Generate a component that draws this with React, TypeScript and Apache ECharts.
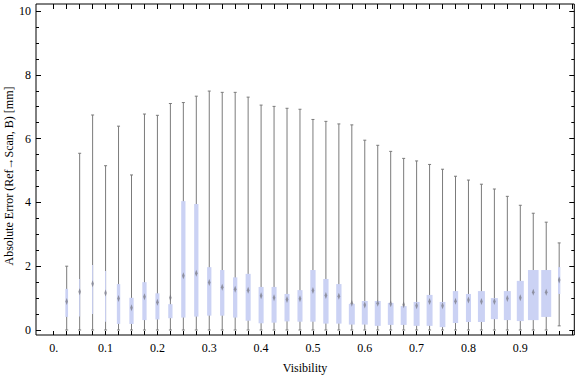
import React, { useEffect, useRef } from "react";
import * as echarts from "echarts";

// Visibility bins (box centres)
const visibility = [
  0.025, 0.05, 0.075, 0.1, 0.125, 0.15, 0.175, 0.2, 0.225, 0.25,
  0.275, 0.3, 0.325, 0.35, 0.375, 0.4, 0.425, 0.45, 0.475, 0.5,
  0.525, 0.55, 0.575, 0.6, 0.625, 0.65, 0.675, 0.7, 0.725, 0.75,
  0.775, 0.8, 0.825, 0.85, 0.875, 0.9, 0.925, 0.95, 0.975,
];
const whiskerLow = [
  0, 0, 0, 0, 0, 0, 0, 0, 0, 0,
  0, 0, 0, 0, 0, 0, 0, 0, 0, 0,
  0, 0, 0, 0, 0, 0, 0, 0, 0, 0,
  0, 0, 0, 0, 0, 0, 0, 0, 0.13,
];
const q1 = [
  0.41, 0.42, 0.5, 0.26, 0.19, 0.19, 0.31, 0.33, 0.37, 0.39,
  0.42, 0.45, 0.45, 0.39, 0.29, 0.21, 0.23, 0.27, 0.26, 0.26,
  0.2, 0.2, 0.17, 0.17, 0.13, 0.16, 0.16, 0.13, 0.13, 0.09,
  0.22, 0.25, 0.25, 0.34, 0.31, 0.28, 0.31, 0.41, 1.13,
];
const median = [
  0.89, 1.2, 1.45, 1.16, 0.99, 0.7, 1.04, 0.87, 1.01, 1.7,
  1.78, 1.49, 1.34, 1.28, 1.25, 1.07, 1.01, 0.96, 0.98, 1.24,
  1.08, 1.06, 0.84, 0.78, 0.84, 0.82, 0.79, 0.76, 0.89, 0.76,
  0.9, 0.94, 0.89, 0.89, 0.99, 1.01, 1.18, 1.18, 1.57,
];
const q3 = [
  1.29, 1.6, 2.04, 1.85, 1.44, 1.01, 1.5, 1.15, 0.81, 4.04,
  3.95, 1.97, 1.88, 1.65, 1.76, 1.35, 1.35, 1.13, 1.25, 1.88,
  1.6, 1.44, 0.82, 0.91, 0.91, 0.85, 0.75, 0.88, 1.1, 0.88,
  1.22, 1.13, 1.22, 1.0, 1.22, 1.54, 1.88, 1.88, 1.97,
];
const whiskerHigh = [
  2.0, 5.54, 6.74, 5.15, 6.39, 4.86, 6.77, 6.73, 7.1, 7.13,
  7.33, 7.49, 7.45, 7.45, 7.3, 7.05, 7.01, 6.95, 6.92, 6.6,
  6.54, 6.46, 6.43, 5.95, 5.79, 5.6, 5.38, 5.3, 5.19, 5.04,
  4.82, 4.7, 4.57, 4.42, 4.19, 3.91, 3.66, 3.38, 2.73,
];
// relative share of samples in each bin (drives box width)
const binShare = [
  0.21, 0.08, 0.08, 0.08, 0.26, 0.33, 0.33, 0.31, 0.33, 0.33,
  0.33, 0.33, 0.33, 0.33, 0.39, 0.39, 0.39, 0.39, 0.39, 0.41,
  0.41, 0.41, 0.46, 0.46, 0.46, 0.44, 0.46, 0.46, 0.46, 0.44,
  0.41, 0.39, 0.54, 0.54, 0.54, 0.54, 0.82, 0.77, 0.18,
];

const BIN_STEP = 0.025;
const FONT = "'Liberation Serif', 'Times New Roman', serif";

export default function App() {
  const ref = useRef<HTMLDivElement>(null);
  useEffect(() => {
    if (!ref.current) return;
    const chart = echarts.init(ref.current, null, { renderer: "svg" });
    const data = visibility.map((v, i) => [
      v, whiskerLow[i], q1[i], median[i], q3[i], whiskerHigh[i], binShare[i],
    ]);
    const tickLabel = (val: number) => {
      const k = Math.round(val * 40);
      if (k % 4 !== 0 || k >= 40) return "";
      return k === 0 ? "0." : (k / 40).toFixed(1);
    };
    const tick = (len: number) => ({ show: true, inside: true, length: len, lineStyle: { color: "#000", width: 1 } });
    const hidden = (grid: number, max: number) => ({ gridIndex: grid, type: "value", min: 0, max, show: false });
    chart.setOption({
      animation: false,
      grid: [
        // frame
        { left: 36, top: 4, width: 538.3, height: 331, show: true, borderColor: "#000", borderWidth: 1, backgroundColor: "transparent" },
        // data area
        { left: 53.74, top: 11, width: 518.4, height: 319 },
        // y axes (left & right frame)
        { left: 36, top: 11, width: 538.3, height: 319 },
        // x axes (bottom & top frame)
        { left: 53.74, top: 4, width: 518.4, height: 331 },
      ],
      xAxis: [
        hidden(0, 1),
        hidden(1, 1),
        hidden(2, 1),
        {
          gridIndex: 3, type: "value", position: "bottom", min: 0, max: 1, interval: 0.025,
          axisLine: { show: false }, splitLine: { show: false },
          axisTick: tick(4),
          axisLabel: { formatter: tickLabel, fontFamily: FONT, fontSize: 12, color: "#000", margin: 7 },
        },
        {
          gridIndex: 3, type: "value", position: "top", min: 0, max: 1, interval: 0.025,
          axisLine: { show: false }, splitLine: { show: false },
          axisTick: tick(5),
          axisLabel: { show: false },
        },
      ],
      yAxis: [
        hidden(0, 10),
        hidden(1, 10),
        {
          gridIndex: 2, type: "value", position: "left", min: 0, max: 10, interval: 2,
          axisLine: { show: false }, splitLine: { show: false },
          axisTick: tick(5),
          minorTick: { show: true, splitNumber: 4, length: 3, lineStyle: { color: "#000", width: 1 } },
          minorSplitLine: { show: false },
          axisLabel: { fontFamily: FONT, fontSize: 12, color: "#000", margin: 5 },
        },
        {
          gridIndex: 2, type: "value", position: "right", min: 0, max: 10, interval: 2,
          axisLine: { show: false }, splitLine: { show: false },
          axisTick: tick(5),
          minorTick: { show: true, splitNumber: 4, length: 3, lineStyle: { color: "#000", width: 1 } },
          minorSplitLine: { show: false },
          axisLabel: { show: false },
        },
        hidden(3, 10),
      ],
      graphic: [
        {
          type: "text", x: 9, y: 176, rotation: Math.PI / 2,
          style: { text: "Absolute Error (Ref\u2192Scan, B) [mm]", fontFamily: FONT, fontSize: 12, fill: "#000", align: "center", verticalAlign: "middle" },
        },
        {
          type: "text", x: 305, y: 368,
          style: { text: "Visibility", fontFamily: FONT, fontSize: 12, fill: "#000", align: "center", verticalAlign: "middle" },
        },
      ],
      series: [
        {
          type: "custom",
          xAxisIndex: 1,
          yAxisIndex: 1,
          data,
          encode: { x: 0, y: [1, 2, 3, 4, 5] },
          clip: false,
          renderItem: (params: any, api: any) => {
            const v = api.value(0);
            const lo = api.coord([v, api.value(1)]);
            const p1 = api.coord([v, api.value(2)]);
            const pm = api.coord([v, api.value(3)]);
            const p3 = api.coord([v, api.value(4)]);
            const hi = api.coord([v, api.value(5)]);
            const w = api.size([BIN_STEP, 0])[0] * api.value(6);
            const cx = lo[0];
            const gray = "#7b7b7b";
            const children: any[] = [
              { type: "line", shape: { x1: cx, y1: lo[1], x2: cx, y2: hi[1] }, style: { stroke: gray, lineWidth: 1 } },
              { type: "line", shape: { x1: cx - 1.5, y1: lo[1], x2: cx + 1.5, y2: lo[1] }, style: { stroke: gray, lineWidth: 1 } },
              { type: "line", shape: { x1: cx - 1.5, y1: hi[1], x2: cx + 1.5, y2: hi[1] }, style: { stroke: gray, lineWidth: 1 } },
              { type: "rect", shape: { x: cx - w / 2, y: p3[1], width: w, height: p1[1] - p3[1] }, style: { fill: "#cbd2f4" } },
              {
                type: "polygon",
                shape: { points: [[cx, pm[1] - 3.5], [cx + 1.3, pm[1]], [cx, pm[1] + 3.5], [cx - 1.3, pm[1]]] },
                style: { fill: "rgba(115,115,125,0.7)" },
              },
            ];
            return { type: "group", children };
          },
        },
      ],
    });
    return () => chart.dispose();
  }, []);
  return <div ref={ref} style={{ width: 576, height: 377, position: "absolute", left: 0, top: 0 }} />;
}
